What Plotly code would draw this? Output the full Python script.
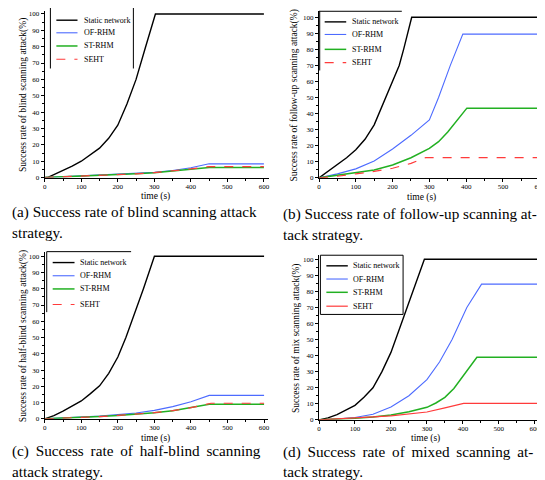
import plotly.graph_objects as go

W, H = 545, 480

# ---------------- data ----------------
# (a) blind scanning
a_static_t = [0, 10, 25, 50, 75, 100, 125, 150, 175, 200, 225, 250, 275, 303, 600]
a_static_v = [0, 0.3, 1.8, 4.3, 7, 10, 13.8, 18, 24, 32, 45, 60, 79, 100, 100]
a_of_t = [0, 50, 100, 150, 200, 250, 300, 350, 400, 450, 600]
a_of_v = [0, 0.5, 1, 1.5, 2, 2.5, 3.2, 4.3, 6, 8.4, 8.4]
a_st_t = [0, 50, 100, 150, 200, 250, 300, 350, 400, 450, 600]
a_st_v = [0, 0.4, 0.8, 1.2, 1.7, 2.3, 3, 4, 5, 6.1, 6.1]
a_se_t = [0, 50, 100, 150, 200, 250, 300, 350, 400, 450, 600]
a_se_v = [0, 0.4, 0.8, 1.2, 1.7, 2.3, 3, 4, 5.3, 6.7, 6.7]

# (b) follow-up scanning
b_static_t = [0, 25, 50, 75, 100, 125, 150, 165, 180, 200, 218, 230, 240, 252, 627]
b_static_v = [0, 4, 8, 12.5, 17.5, 24, 33, 41, 50, 60, 70, 80, 90, 100, 100]
b_of_t = [0, 50, 100, 150, 200, 250, 300, 325, 357, 391, 627]
b_of_v = [0, 2.5, 5.6, 10.5, 18, 26.5, 36, 50, 70, 89.5, 89.5]
b_st_t = [0, 50, 100, 150, 200, 250, 300, 325, 350, 375, 402, 627]
b_st_v = [0, 1.5, 3.3, 4.9, 8, 12.5, 18.3, 22.5, 28.6, 36, 43.4, 43.4]
b_se_t = [0, 50, 100, 150, 200, 250, 290, 627]
b_se_v = [0, 1, 2.5, 4, 6, 9, 12.6, 12.6]

# (c) half-blind scanning
c_static_t = [0, 25, 50, 75, 100, 125, 150, 175, 200, 222, 240, 253, 270, 285, 300, 600]
c_static_v = [0, 2, 4.7, 7.8, 11, 15.5, 20.3, 28, 38, 50, 61, 70, 80, 90, 100, 100]
c_of_t = [0, 50, 100, 150, 200, 250, 300, 350, 400, 450, 600]
c_of_v = [0, 0.5, 1, 1.7, 2.6, 3.6, 5.2, 7.5, 10.5, 14.4, 14.4]
c_st_t = [0, 50, 100, 150, 200, 250, 300, 350, 400, 450, 600]
c_st_v = [0, 0.4, 0.9, 1.4, 2.1, 2.9, 3.8, 5, 6.8, 8.9, 8.9]
c_se_t = [0, 50, 100, 150, 200, 250, 300, 350, 400, 455, 600]
c_se_v = [0, 0.4, 0.9, 1.4, 2.1, 2.9, 3.8, 5, 6.9, 9.6, 9.6]

# (d) mixed scanning
d_static_t = [0, 25, 50, 75, 100, 125, 150, 175, 200, 225, 250, 275, 293, 614]
d_static_v = [0, 1.2, 3.3, 6, 9, 14, 20, 30, 42, 57.5, 73, 89, 100, 100]
d_of_t = [0, 50, 100, 150, 200, 250, 300, 335, 370, 411, 452, 614]
d_of_v = [0, 0.5, 1.5, 3.5, 8, 15, 25, 36, 50, 70, 84.5, 84.5]
d_st_t = [0, 50, 100, 150, 200, 250, 300, 325, 350, 375, 400, 439, 614]
d_st_v = [0, 0.4, 1, 1.8, 3, 5, 7.8, 10.5, 14, 19.5, 27, 39, 39]
d_se_t = [0, 50, 100, 150, 200, 250, 300, 350, 402, 614]
d_se_v = [0, 0.5, 1.2, 1.8, 2.5, 3.5, 4.9, 7.5, 10.3, 10.3]

series_names = ["Static network", "OF-RHM", "ST-RHM", "SEHT"]
y_titles = [
    "Success rate of blind scanning attack(%)",
    "Success rate of follow-up scanning attack(%)",
    "Success rate of half-blind scanning attack(%)",
    "Success rate of mix scanning attack(%)",
]
x_title = "time (s)"
TS = "\u2009"  # thin space used to justify the caption lines
captions = [
    ["(a) Success rate of blind scanning attack", "strategy."],
    ["(b) Success rate of follow-up scanning at-", "tack strategy."],
    [("(c) Success rate of half-blind scanning").replace(" ", " " + TS), "attack strategy."],
    [("(d) Success rate of mixed scanning at-").replace(" ", " " + TS), "tack strategy."],
]

panels = [
    [(a_static_t, a_static_v), (a_of_t, a_of_v), (a_st_t, a_st_v), (a_se_t, a_se_v)],
    [(b_static_t, b_static_v), (b_of_t, b_of_v), (b_st_t, b_st_v), (b_se_t, b_se_v)],
    [(c_static_t, c_static_v), (c_of_t, c_of_v), (c_st_t, c_st_v), (c_se_t, c_se_v)],
    [(d_static_t, d_static_v), (d_of_t, d_of_v), (d_st_t, d_st_v), (d_se_t, d_se_v)],
]

# ---------------- layout geometry (pixels) ----------------
def px(x):
    return x / W

def py(y):
    return 1 - y / H

# x-left, x-right, y-top, y-bottom (px), x range max, y range max
geom = [
    (35.0, 261.3, 2.7, 171.0, 615, 102.0),
    (311.3, 544.0, 3.3, 171.3, 628, 103.7),
    (35.0, 260.0, 245.7, 414.3, 611, 102.8),
    (311.3, 534.7, 249.3, 415.3, 616.6, 102.5),
]

colors = ["#000000", "#4d6bff", "#22b022", "#ff3b3b"]
widths = [1.4, 1.1, 1.5, 1.2]
SERIF = "Liberation Serif, Times New Roman, serif"

fig = go.Figure()
layout = dict(
    width=W, height=H, margin=dict(l=0, r=0, t=0, b=0),
    paper_bgcolor="white", plot_bgcolor="white", showlegend=False,
    font=dict(family=SERIF, color="black"),
)
annotations = []
shapes = []

for i, (series, g) in enumerate(zip(panels, geom)):
    xl, xr, yt, yb, xmax, ymax = g
    k = "" if i == 0 else str(i + 1)
    xa, ya = "x" + k, "y" + k
    for j, (t, v) in enumerate(series):
        dash = "dash" if (j == 3 and i != 3) else "solid"
        fig.add_trace(go.Scatter(
            x=t, y=v, mode="lines", name=series_names[j],
            line=dict(color=colors[j], width=widths[j], dash=dash),
            xaxis=xa, yaxis=ya, hoverinfo="skip",
        ))
    common = dict(showgrid=False, zeroline=False, showline=True, linecolor="black",
                  linewidth=1, ticks="outside", ticklen=3, tickwidth=1,
                  tickcolor="black", tickfont=dict(size=7, family=SERIF))
    layout["xaxis" + k] = dict(
        domain=[px(xl), px(xr)], range=[0, xmax], anchor=ya, ticklabelstandoff=-1,
        tick0=0, dtick=100, minor=dict(ticks="outside", ticklen=2, dtick=50, tickcolor="black"),
        **common)
    layout["yaxis" + k] = dict(
        domain=[py(yb), py(yt)], range=[0, ymax], anchor=xa,
        tick0=0, dtick=10, minor=dict(ticks="outside", ticklen=2, dtick=5, tickcolor="black"),
        **common)

# axis titles
ytitle_x = [13, 287, 13, 288.7]
xtitle_pos = [(147, 190.5), (415, 191.5), (147, 434.5), (418.7, 434)]
for i, g in enumerate(geom):
    xl, xr, yt, yb, xmax, ymax = g
    annotations.append(dict(
        x=px(ytitle_x[i]), y=py((yt + yb) / 2 + 1), xref="paper", yref="paper",
        text=y_titles[i], textangle=-90, showarrow=False,
        font=dict(size=9.5, family=SERIF), xanchor="center", yanchor="middle"))
    annotations.append(dict(
        x=px(xtitle_pos[i][0]), y=py(xtitle_pos[i][1]), xref="paper", yref="paper",
        text=x_title, showarrow=False, font=dict(size=9.5, family=SERIF),
        xanchor="center", yanchor="middle"))

# legends (manual)
leg = [
    dict(rows=[12.3, 25, 38.3, 51.7], sx=(46.7, 68), tx=72.3),
    dict(rows=[14, 26.7, 41.7, 55], sx=(317, 338.7), tx=343),
    dict(rows=[256.7, 270, 283.3, 299], sx=(43, 65), tx=69),
    dict(rows=[260, 273.3, 286.7, 300.7], sx=(318.7, 340.3), tx=343.7),
]
for i, L in enumerate(leg):
    for j, ry in enumerate(L["rows"]):
        dash = "dash" if (j == 3 and i != 3) else "solid"
        shapes.append(dict(type="line", xref="paper", yref="paper",
                           x0=px(L["sx"][0]), x1=px(L["sx"][1]), y0=py(ry), y1=py(ry),
                           line=dict(color=colors[j], width=widths[j], dash=dash)))
        annotations.append(dict(x=px(L["tx"]), y=py(ry), xref="paper", yref="paper",
                                text=series_names[j], showarrow=False,
                                font=dict(size=8, family=SERIF),
                                xanchor="left", yanchor="middle"))

def seg(x0, y0, x1, y1):
    shapes.append(dict(type="line", xref="paper", yref="paper",
                       x0=px(x0), y0=py(y0), x1=px(x1), y1=py(y1),
                       line=dict(color="black", width=1)))

# legend frames (partial, as in the reference)
seg(40.7, 0, 40.7, 61)
seg(124.3, 0, 124.3, 61)
seg(311.3, 3.3, 394.7, 3.3)
seg(312, 3.3, 312, 63)
seg(37, 245.7, 122, 245.7)
seg(37, 245.7, 37, 306.7)
seg(312.7, 249.3, 396, 249.3)
seg(396, 249.3, 396, 309)
seg(312.7, 309, 396, 309)
seg(312.7, 249.3, 312.7, 309)

# captions
cap_pos = [(1, 206, 226), (274, 208, 228), (1, 447, 467), (274, 448, 467)]
for i, (cx, y1, y2) in enumerate(cap_pos):
    for line, yy in zip(captions[i], (y1, y2)):
        annotations.append(dict(x=px(cx), y=py(yy), xref="paper", yref="paper",
                                text=line, showarrow=False, borderpad=0,
                                font=dict(size=15.2, family=SERIF),
                                xanchor="left", yanchor="middle"))

layout["annotations"] = annotations
layout["shapes"] = shapes
fig.update_layout(**layout)
fig.write_html("out.html")
